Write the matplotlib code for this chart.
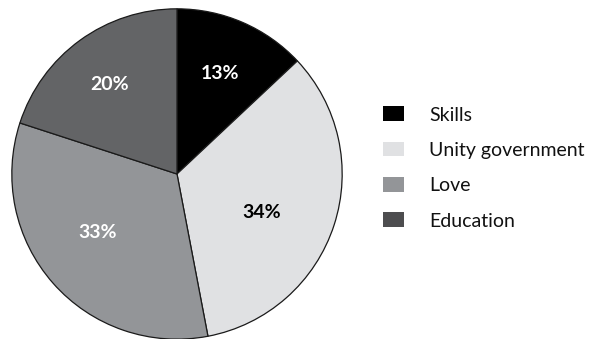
import matplotlib
matplotlib.use("Agg")
import matplotlib.pyplot as plt
from matplotlib.patches import Rectangle

categories = ["Skills", "Unity government", "Love", "Education"]
shares = [13, 34, 33, 20]
colors = ["#000000", "#e0e1e3", "#939598", "#636466"]
legend_colors = ["#000000", "#e0e1e3", "#939598", "#4d4d4f"]
label_colors = ["white", "black", "white", "white"]

plt.rcParams["font.family"] = ["Lato", "DejaVu Sans"]

W, H = 593, 339
fig = plt.figure(figsize=(W / 100, H / 100), dpi=100)
cx, cy, r = 177, 174, 166
ax = fig.add_axes([(cx - r) / W, (H - cy - r) / H, 2 * r / W, 2 * r / H])

wedges, texts, autotexts = ax.pie(
    shares,
    colors=colors,
    startangle=90,
    counterclock=False,
    radius=1,
    autopct="%d%%",
    pctdistance=0.64,
    wedgeprops=dict(edgecolor="#1a1a1a", linewidth=0.9),
    textprops=dict(fontsize=14, fontweight="bold"),
)
# small best-fit nudges of the percentage labels (pixels: right, down)
nudges = [(1, -3), (-16, 6), (0, -11), (-5, -4)]
for t, c, (dx, dy) in zip(autotexts, label_colors, nudges):
    t.set_color(c)
    x, y = t.get_position()
    t.set_position((x + dx / r, y - dy / r))
ax.set_xlim(-1.005, 1.005)
ax.set_ylim(-1.005, 1.005)
ax.set_aspect("equal")
ax.axis("off")

# legend drawn in figure pixel space
fs = 14
cap = 0.72 * fs * 100 / 72
row0, pitch = 113.5, 35.4
box_x, box_w, box_h, text_x = 383, 21, 14.5, 429
for i, (lab, col) in enumerate(zip(categories, legend_colors)):
    yc = row0 + i * pitch
    fig.patches.append(Rectangle((box_x / W, 1 - (yc + box_h / 2) / H),
                                 box_w / W, box_h / H, facecolor=col,
                                 edgecolor="none", transform=fig.transFigure))
    fig.text(text_x / W, 1 - (yc + cap / 2) / H, lab, fontsize=fs,
             va="baseline", ha="left", color="#111111")

fig.savefig("out.png", dpi=100)
